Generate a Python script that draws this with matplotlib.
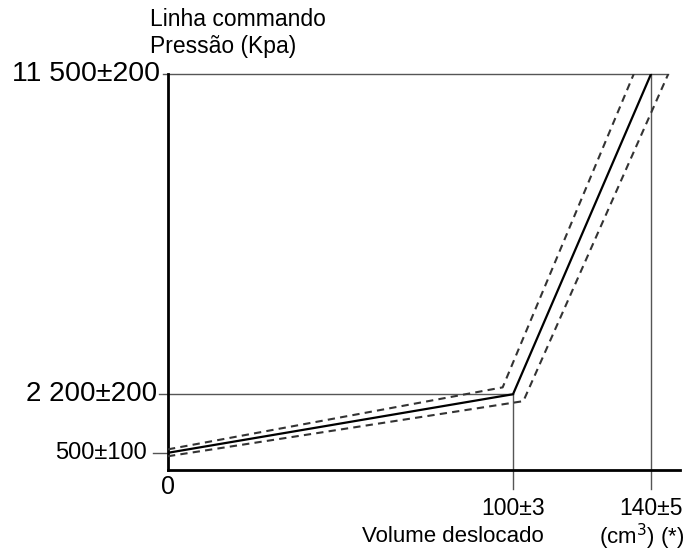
import matplotlib
matplotlib.use("Agg")
import matplotlib.pyplot as plt

# Nominal characteristic and tolerance band (volume cm3, pressure kPa)
vol_nominal = [0, 100, 140]
press_nominal = [500, 2200, 11500]
vol_upper = [0, 97, 135]
press_upper = [600, 2400, 11500]
vol_lower = [0, 103, 145]
press_lower = [400, 2000, 11500]

y_ticks = [500, 2200, 11500]
y_labels = ["500±100", "2 200±200", "11 500±200"]
x_ticks = [100, 140]
x_labels = ["100±3", "140±5"]

plt.rcParams["font.family"] = ["Liberation Sans", "DejaVu Sans"]

W, H = 688, 551
fig = plt.figure(figsize=(W / 100, H / 100), dpi=100)
ax = fig.add_axes([168 / W, (H - 470) / H, (680 - 168) / W, (470 - 74) / H])
ax.set_xlim(0, 148.4)
ax.set_ylim(0, 11500)

for s in ["top", "right"]:
    ax.spines[s].set_visible(False)
for s in ["left", "bottom"]:
    ax.spines[s].set_linewidth(2)
    ax.spines[s].set_color("black")
ax.set_xticks([])
ax.set_yticks([])

guide = dict(color="#555555", lw=1, clip_on=False, zorder=1)
# reference lines
ax.plot([0, 145], [11500, 11500], **guide)
ax.plot([0, 100], [2200, 2200], **guide)
ax.plot([100, 100], [-550, 2200], **guide)
ax.plot([140, 140], [-550, 11500], **guide)
# short tick marks on the pressure axis
ax.plot([-4.4, 0], [500, 500], **guide)
ax.plot([-2.5, 0], [2200, 2200], **guide)
ax.plot([-1.5, 0], [11500, 11500], **guide)

ax.plot(vol_nominal, press_nominal, color="black", lw=1.6, zorder=3)
dash = dict(color="#333333", lw=1.5, dashes=(3.5, 2.5), zorder=3)
ax.plot(vol_upper, press_upper, **dash)
ax.plot(vol_lower, press_lower, **dash)

ax.text(-6, y_ticks[0], y_labels[0], ha="right", va="center", fontsize=17)
ax.text(-3.2, y_ticks[1], y_labels[1], ha="right", va="center", fontsize=20)
ax.text(-2.3, y_ticks[2], y_labels[2], ha="right", va="center", fontsize=20.5)

fig.text(150 / W, 1 - 20 / H, "Linha commando", ha="left", va="center", fontsize=16.5)
fig.text(150 / W, 1 - 47 / H, "Pressão (Kpa)", ha="left", va="center", fontsize=16.5)

fig.text(168 / W, 1 - 487 / H, "0", ha="center", va="center", fontsize=18)
for xv, lab in zip(x_ticks, x_labels):
    ax.text(xv, -1120, lab, ha="center", va="center", fontsize=16.5, clip_on=False)
fig.text(453 / W, 1 - 537 / H, "Volume deslocado", ha="center", va="center", fontsize=16)
fig.text(642 / W, 1 - 537 / H, "(cm$^3$) (*)", ha="center", va="center", fontsize=16)

fig.savefig("out.png", dpi=100)
